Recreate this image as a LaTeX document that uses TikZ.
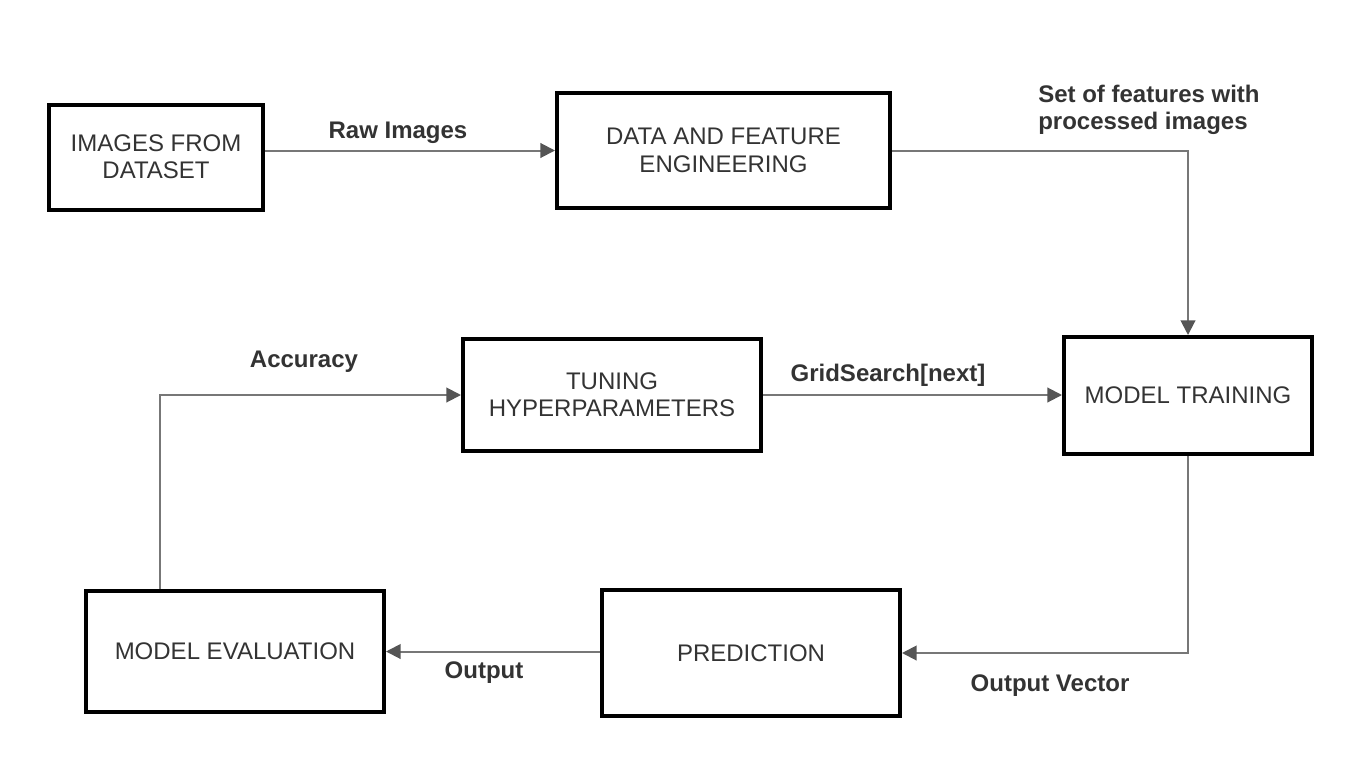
\documentclass[tikz,border=0pt]{standalone}
\usepackage{fontspec}
\setmainfont{Liberation Sans}
\usetikzlibrary{calc,positioning,arrows.meta}
\definecolor{linegray}{HTML}{777777}
\definecolor{tipgray}{HTML}{555555}
\definecolor{textgray}{HTML}{333333}
\tikzset{
  stage/.style={draw=black, line width=3pt, align=center, text=textgray,
    font=\fontsize{18}{20.5}\selectfont, inner sep=0pt},
  flow/.style={draw=linegray, line width=1.5pt,
    -{Triangle[length=11pt, width=11pt, color=tipgray]}},
  flowlabel/.style={text=textgray, font=\bfseries\fontsize{18}{20.5}\selectfont,
    inner sep=0pt},
}

\begin{document}
\begin{tikzpicture}[x=0.75pt, y=-0.75pt]
  \useasboundingbox (0,0) rectangle (1362,778);

  % pipeline stages
  \node [stage, minimum width=160.5pt, minimum height=78.75pt]
    (images) at (156,157) {IMAGES FROM\\DATASET};
  \node [stage, minimum width=249.75pt, minimum height=86.25pt]
    (features) at (723.5,150.5) {DATA AND FEATURE\\ENGINEERING};
  \node [stage, minimum width=186pt, minimum height=87.75pt]
    (training) at (1188,395.5) {MODEL TRAINING};
  \node [stage, minimum width=223.5pt, minimum height=84pt]
    (tuning) at (612,395) {TUNING\\HYPERPARAMETERS};
  \node [stage, minimum width=223.5pt, minimum height=90.75pt]
    (evaluation) at (235,651.5) {MODEL EVALUATION};
  \node [stage, minimum width=223.5pt, minimum height=94.5pt]
    (prediction) at (751,653) {PREDICTION};

  % images to feature engineering
  \draw [flow] (images.east |- features) -- (features.west);
  \node [flowlabel] (raw label) at (398,133) {Raw Images};

  % features to training
  \draw [flow]
    (features.east)
    -| (training.north)
  ;
  \node [flowlabel, align=left, anchor=west] (set label) at (1038,110)
    {Set of features with\\processed images};

  % tuning to training
  \draw [flow] (tuning.east) -- (tuning.east -| training.west);
  \node [flowlabel] (grid label) at (888,375) {GridSearch[next]};

  % training to prediction
  \draw [flow]
    (training.south)
    |- (prediction.east)
  ;
  \node [flowlabel] (vector label) at (1050,686) {Output Vector};

  % prediction to evaluation
  \draw [flow] (prediction.west |- evaluation.east) -- (evaluation.east);
  \node [flowlabel] (output label) at (484,673) {Output};

  % evaluation back to tuning
  \draw [flow]
    ($(evaluation.north west)!0.25!(evaluation.north east)$)
    |- (tuning.west)
  ;
  \node [flowlabel] (accuracy label) at (304,362) {Accuracy};
\end{tikzpicture}
\end{document}
